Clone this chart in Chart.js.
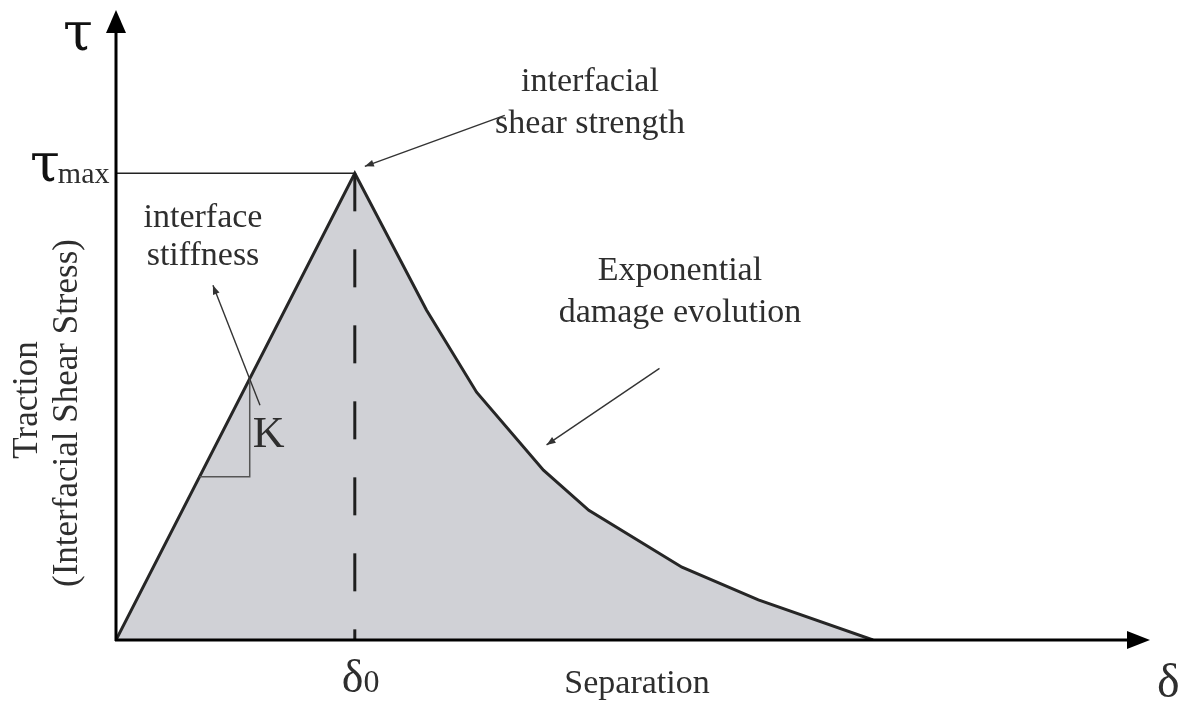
<!DOCTYPE html>
<html>
<head>
<meta charset="utf-8">
<script src="https://cdn.jsdelivr.net/npm/chart.js@4.4.0/dist/chart.umd.min.js"></script>
<style>
  html, body { margin: 0; padding: 0; background: #fff; }
  canvas { display: block; }
</style>
</head>
<body>
<canvas id="tslChart" width="1190" height="702"></canvas>
<script>
// traction-separation law: x in units of delta0, y in units of tau_max
const sepValues = [0, 1, 1.30, 1.51, 1.79, 1.98, 2.37, 2.69, 3.17];
const tractionValues = [0, 1, 0.707, 0.531, 0.364, 0.278, 0.156, 0.086, 0];
const delta0 = 1;
const tauMax = 1;
const xMax = 4.33;
const yMax = 1.35;

// slope triangle for the stiffness K (corner points)
const kTriX = [0.35, 0.56, 0.56];
const kTriY = [0.35, 0.35, 0.56];

// pointer arrows [tailX, tailY, headX, headY]
const stiffArrow = [0.603, 0.503, 0.406, 0.760];
const strengthArrow = [1.628, 1.124, 1.042, 1.015];
const damageArrow = [2.276, 0.582, 1.803, 0.418];

const INK = '#2e2e2e';
const SERIF = '"Liberation Serif", "DejaVu Serif", serif';
const GREEK = '"DejaVu Serif", "Liberation Serif", serif';

function pts(xs, ys) {
  return xs.map((x, i) => ({ x: x, y: ys[i] }));
}

function arrowHead(ctx, x1, y1, x2, y2, len, half) {
  const a = Math.atan2(y2 - y1, x2 - x1);
  ctx.beginPath();
  ctx.moveTo(x2, y2);
  ctx.lineTo(x2 - len * Math.cos(a) + half * Math.sin(a), y2 - len * Math.sin(a) - half * Math.cos(a));
  ctx.lineTo(x2 - len * Math.cos(a) - half * Math.sin(a), y2 - len * Math.sin(a) + half * Math.cos(a));
  ctx.closePath();
  ctx.fill();
}

// axes with arrowheads, pointers and all the labels
const diagramPlugin = {
  id: 'diagram',
  afterDraw(chart) {
    const ctx = chart.ctx;
    const area = chart.chartArea;
    const sx = chart.scales.x, sy = chart.scales.y;
    const X = v => sx.getPixelForValue(v);
    const Y = v => sy.getPixelForValue(v);
    const ox = X(0), oy = Y(0);

    ctx.save();
    // axes
    ctx.strokeStyle = '#000';
    ctx.fillStyle = '#000';
    ctx.lineWidth = 3;
    ctx.beginPath();
    ctx.moveTo(ox, oy + 1);
    ctx.lineTo(ox, area.top + 18);
    ctx.moveTo(ox - 1, oy);
    ctx.lineTo(area.right - 18, oy);
    ctx.stroke();
    arrowHead(ctx, ox, oy, ox, area.top, 23, 10);
    arrowHead(ctx, ox, oy, area.right, oy, 23, 9);

    // pointer arrows
    ctx.strokeStyle = '#333';
    ctx.fillStyle = '#333';
    ctx.lineWidth = 1.4;
    [stiffArrow, strengthArrow, damageArrow].forEach(a => {
      const x1 = X(a[0]), y1 = Y(a[1]), x2 = X(a[2]), y2 = Y(a[3]);
      ctx.beginPath();
      ctx.moveTo(x1, y1);
      ctx.lineTo(x2, y2);
      ctx.stroke();
      arrowHead(ctx, x1, y1, x2, y2, 9, 3.5);
    });

    // text
    ctx.fillStyle = INK;
    ctx.textBaseline = 'alphabetic';
    ctx.textAlign = 'center';
    ctx.font = '34px ' + SERIF;
    ctx.fillText('interface', 203, 227);
    ctx.fillText('stiffness', 203, 265);
    ctx.fillText('interfacial', 590, 91);
    ctx.fillText('shear strength', 590, 133);
    ctx.fillText('Exponential', 680, 280);
    ctx.fillText('damage evolution', 680, 322);
    ctx.fillText('Separation', 637, 693);

    ctx.textAlign = 'left';
    ctx.font = '44px ' + SERIF;
    ctx.fillText('K', X(kTriX[1]) + 3, 447);

    // delta0 tick label
    ctx.font = '46px ' + SERIF;
    const dx = X(delta0) - 13;
    ctx.fillText('δ', dx, 692);
    const dw = ctx.measureText('δ').width;
    ctx.font = '32px ' + SERIF;
    ctx.fillText('0', dx + dw, 692);

    // axis symbols
    ctx.font = '48px ' + SERIF;
    ctx.fillText('δ', 1157, 697);
    ctx.fillStyle = '#111';
    ctx.font = '54px ' + GREEK;
    ctx.fillText('τ', 63, 50);

    // tau_max tick label
    ctx.fillText('τ', 30, Y(tauMax) + 8);
    const tw = ctx.measureText('τ').width;
    ctx.fillStyle = INK;
    ctx.font = '30px ' + SERIF;
    ctx.fillText('max', 28 + tw, Y(tauMax) + 10);

    // y axis title, rotated
    ctx.textAlign = 'center';
    ctx.font = '35px ' + SERIF;
    ctx.save();
    ctx.translate(37, 400);
    ctx.rotate(-Math.PI / 2);
    ctx.fillText('Traction', 0, 0);
    ctx.restore();
    ctx.save();
    ctx.translate(77, 413);
    ctx.rotate(-Math.PI / 2);
    ctx.fillText('(Interfacial Shear Stress)', 0, 0);
    ctx.restore();

    ctx.restore();
  }
};

new Chart(document.getElementById('tslChart'), {
  type: 'scatter',
  data: {
    datasets: [
      {
        label: 'delta0',
        data: pts([delta0, delta0], [tauMax, 0]),
        showLine: true,
        borderColor: '#1e1e1e',
        borderWidth: 3,
        borderDash: [38, 38],
        pointRadius: 0,
        order: 0
      },
      {
        label: 'tauMax',
        data: pts([0, delta0], [tauMax, tauMax]),
        showLine: true,
        borderColor: '#222',
        borderWidth: 1.5,
        pointRadius: 0,
        order: 1
      },
      {
        label: 'K',
        data: pts(kTriX, kTriY),
        showLine: true,
        borderColor: '#555',
        borderWidth: 1.5,
        pointRadius: 0,
        order: 2
      },
      {
        label: 'traction',
        data: pts(sepValues, tractionValues),
        showLine: true,
        borderColor: '#262626',
        borderWidth: 3,
        backgroundColor: '#d0d1d6',
        fill: 'origin',
        tension: 0,
        pointRadius: 0,
        order: 3
      }
    ]
  },
  options: {
    responsive: false,
    animation: false,
    devicePixelRatio: 1,
    layout: { padding: { left: 116, right: 40, top: 10, bottom: 62 } },
    plugins: {
      legend: { display: false },
      tooltip: { enabled: false }
    },
    scales: {
      x: { type: 'linear', min: 0, max: xMax, display: false },
      y: { type: 'linear', min: 0, max: yMax, display: false }
    }
  },
  plugins: [diagramPlugin]
});
</script>
</body>
</html>
